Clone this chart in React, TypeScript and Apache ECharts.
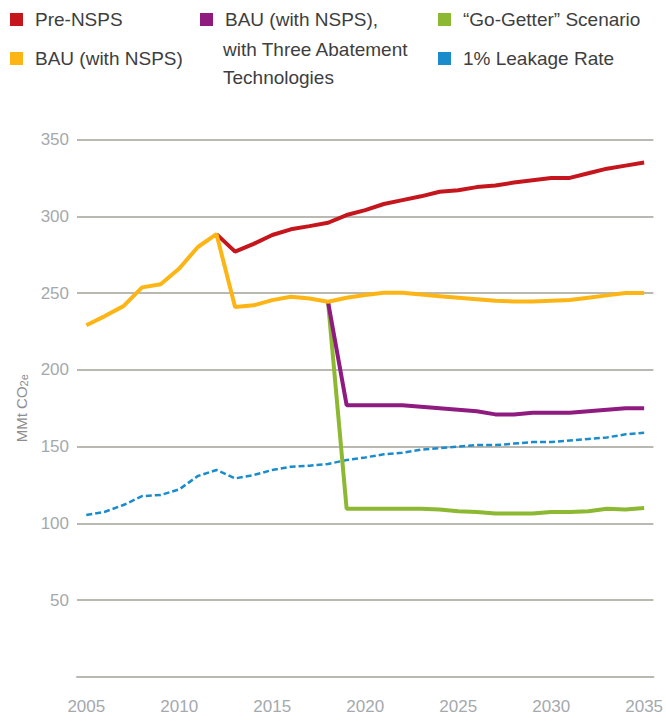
import React, { useEffect, useRef } from "react";
import * as echarts from "echarts";

const years = Array.from({ length: 31 }, (_, i) => String(2005 + i));

const preNSPS = [null, null, null, null, null, null, null, 288.4, 277, 282, 287.8, 291.5, 293.6, 295.8, 300.8, 304, 308, 310.5, 313, 316, 317, 319, 320, 322, 323.5, 325, 325, 328, 331, 333, 335];
const bauNSPS = [229, 235, 241.5, 253.7, 255.8, 266, 280, 288.4, 241, 242, 245.4, 247.6, 246.5, 244.3, 247, 248.7, 250.2, 250.2, 249, 248, 247, 246, 245, 244.5, 244.5, 245, 245.5, 247, 248.5, 250, 250];
const bauAbatement = [null, null, null, null, null, null, null, null, null, null, null, null, null, 244.3, 177, 177, 177, 177, 176, 175, 174, 173, 171, 171, 172, 172, 172, 173, 174, 175, 175];
const goGetter = [null, null, null, null, null, null, null, null, null, null, null, null, null, 244.3, 109.5, 109.5, 109.5, 109.5, 109.5, 109, 108, 107.5, 106.5, 106.5, 106.5, 107.5, 107.5, 108, 109.5, 109, 110];
const leakage = [105.5, 107.6, 112, 117.8, 118.5, 122.2, 130.9, 134.8, 129.3, 131.5, 134.8, 136.9, 137.6, 138.7, 141.3, 143, 145, 146, 148, 149, 150, 151, 151, 152, 153, 153, 154, 155, 156, 158, 159];

const names = {
  pre: "Pre-NSPS",
  bau: "BAU (with NSPS)",
  abate: "BAU (with NSPS), with Three Abatement Technologies",
  go: "\u201CGo-Getter\u201D Scenario",
  leak: "1% Leakage Rate",
};
const abateLines = ["BAU (with NSPS),", "with Three Abatement", "Technologies"];

const FONT = "'Liberation Sans', Arial, sans-serif";
const TEXT_DARK = "#3e3e40";
const AXIS_TXT = "#a5a9ad";
const GRID = "#b9b9b2";

export default function App() {
  const ref = useRef<HTMLDivElement>(null);
  useEffect(() => {
    document.body.style.margin = "0";
    const chart = echarts.init(ref.current!, undefined, { renderer: "svg" });
    const legendText = {
      fontFamily: FONT,
      fontSize: 19,
      color: TEXT_DARK,
      lineHeight: 22,
      padding: [0, 0, 0, 7],
    };
    const legendBase = {
      top: 8.5,
      orient: "vertical",
      icon: "rect",
      itemWidth: 13,
      itemHeight: 13,
      itemGap: 17,
      padding: 0,
      selectedMode: false,
      textStyle: legendText,
    };
    const lineSeries = (name: string, data: any[], color: string, extra: any = {}) => ({
      name,
      type: "line",
      data,
      symbol: "none",
      connectNulls: false,
      itemStyle: { color },
      lineStyle: { color, width: 4, ...(extra.lineStyle || {}) },
      z: extra.z ?? 2,
    });
    chart.setOption({
      animation: false,
      backgroundColor: "#ffffff",
      legend: [
        { ...legendBase, left: 10, data: [names.pre, names.bau] },
        { ...legendBase, left: 200, data: [names.abate], formatter: () => abateLines[0] },
        { ...legendBase, left: 438, data: [names.go, names.leak] },
      ],
      graphic: [
        {
          type: "text",
          left: 223,
          top: 35,
          style: {
            text: abateLines[1] + "\n" + abateLines[2],
            fontFamily: FONT,
            fontSize: 19,
            lineHeight: 28,
            fill: TEXT_DARK,
          },
        },
      ],
      grid: { left: 77, right: 9, top: 139.5, bottom: 44, containLabel: false },
      xAxis: {
        type: "category",
        data: years,
        boundaryGap: true,
        axisLine: { show: true, lineStyle: { color: GRID, width: 2 } },
        axisTick: { show: false },
        axisLabel: {
          interval: 4,
          margin: 21,
          fontFamily: FONT,
          fontSize: 17,
          color: AXIS_TXT,
        },
        splitLine: { show: false },
      },
      yAxis: {
        type: "value",
        min: 0,
        max: 350,
        interval: 50,
        name: "MMt CO{sub|2e}",
        nameLocation: "middle",
        nameRotate: 90,
        nameGap: 31,
        nameTextStyle: {
          fontFamily: FONT,
          fontSize: 15,
          color: "#8e8e8e",
          rich: {
            sub: { fontFamily: FONT, fontSize: 11, color: "#8e8e8e", verticalAlign: "bottom", padding: [6, 0, 0, 0] },
          },
        },
        axisLine: { show: false },
        axisTick: { show: false },
        axisLabel: {
          margin: 8,
          fontFamily: FONT,
          fontSize: 17,
          color: AXIS_TXT,
          formatter: (v: number) => (v === 0 ? "" : String(v)),
        },
        splitLine: { show: true, lineStyle: { color: GRID, width: 2 } },
      },
      series: [
        lineSeries(names.pre, preNSPS, "#c4161c", { z: 2 }),
        lineSeries(names.leak, leakage, "#1a8ccc", { lineStyle: { width: 2.5, type: [6, 3] }, z: 2 }),
        lineSeries(names.go, goGetter, "#8cb832", { z: 3 }),
        lineSeries(names.abate, bauAbatement, "#8f1b81", { z: 3 }),
        lineSeries(names.bau, bauNSPS, "#fdb515", { z: 4 }),
      ],
    });
    return () => chart.dispose();
  }, []);
  return <div ref={ref} style={{ width: 666, height: 721 }} />;
}
